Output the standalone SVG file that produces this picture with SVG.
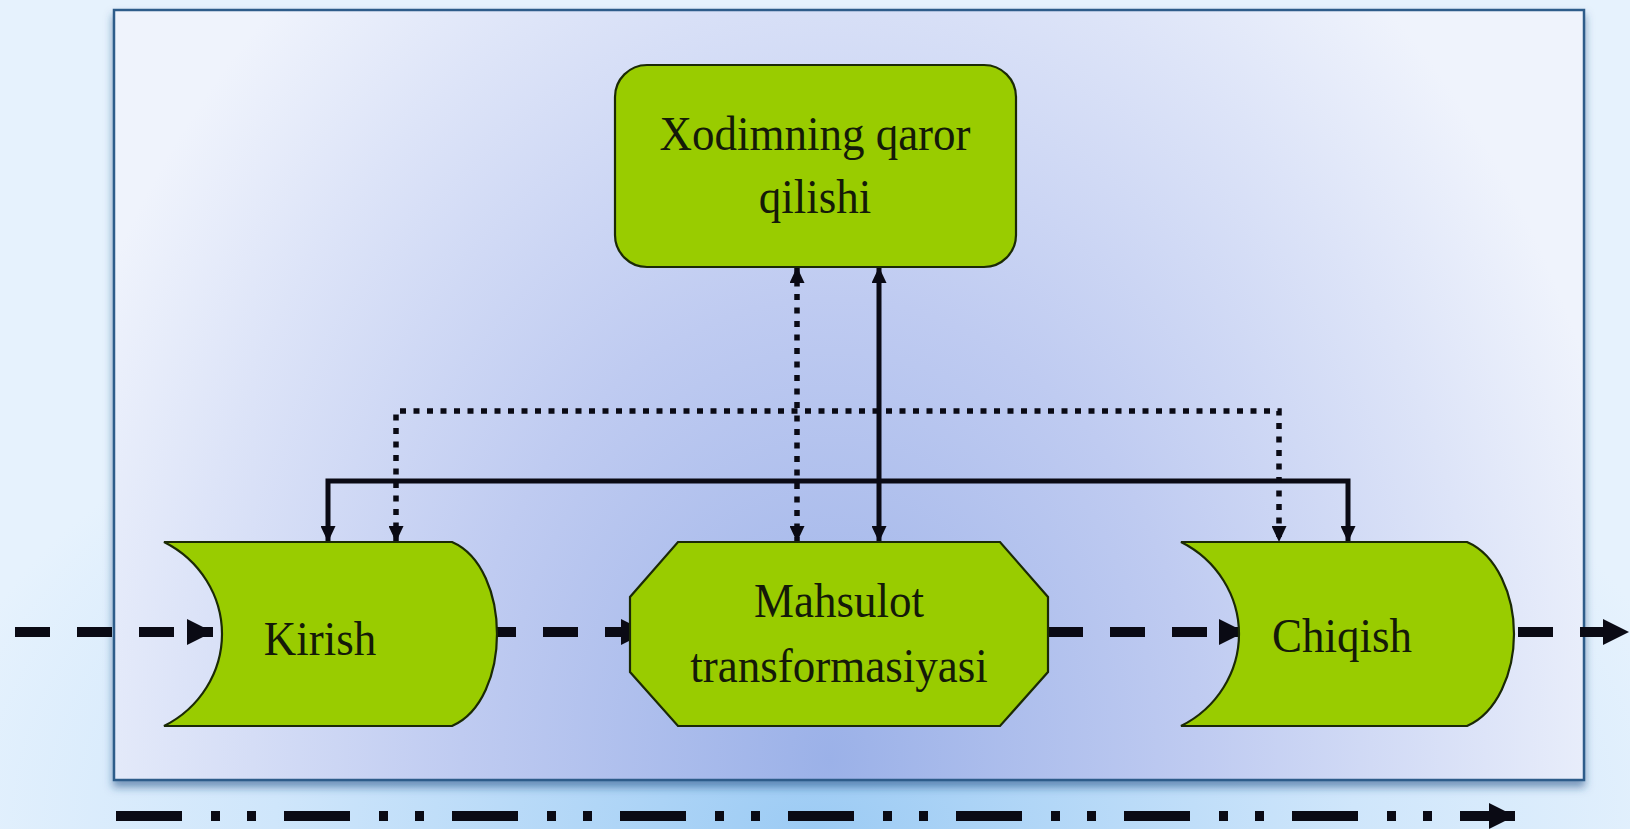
<svg xmlns="http://www.w3.org/2000/svg" width="1630" height="829" viewBox="0 0 1630 829">
<defs>
<radialGradient id="bgOuter" gradientUnits="userSpaceOnUse" cx="815" cy="829" r="900" gradientTransform="translate(815 829) scale(1 0.6) translate(-815 -829)">
<stop offset="0" stop-color="#9ccbf4"/>
<stop offset="0.6" stop-color="#cfe6fb"/>
<stop offset="1" stop-color="#e6f2fd"/>
</radialGradient>
<radialGradient id="bgInner" gradientUnits="userSpaceOnUse" cx="830" cy="760" r="820" gradientTransform="translate(830 760) scale(1 1.25) translate(-830 -760)">
<stop offset="0" stop-color="#9bb1e8"/>
<stop offset="0.45" stop-color="#bfcbf1"/>
<stop offset="0.8" stop-color="#dde4f8"/>
<stop offset="1" stop-color="#eff3fc"/>
</radialGradient>
<filter id="shadow" x="-5%" y="-5%" width="110%" height="115%">
<feDropShadow dx="0" dy="6" stdDeviation="4" flood-color="#1d4c82" flood-opacity="0.55"/>
</filter>
<marker id="bigHead" markerUnits="userSpaceOnUse" markerWidth="26" markerHeight="26" refX="26" refY="13" orient="auto-start-reverse">
<path d="M0,0 L26,13 L0,26 Z" fill="#0a0a14"/>
</marker>
<marker id="smallHead" markerUnits="userSpaceOnUse" markerWidth="16" markerHeight="15" refX="16" refY="7.5" orient="auto-start-reverse">
<path d="M0,0 L16,7.5 L0,15 Z" fill="#0a0a14"/>
</marker>
<style>
.node{fill:#99cc00;stroke:#1b2a05;stroke-width:2.2}
.lbl{font-family:"Liberation Serif","Times New Roman",serif;font-size:45px;fill:#141a08;text-anchor:middle}
.solid{fill:none;stroke:#0a0a14;stroke-width:5}
.dotted{fill:none;stroke:#0a0a14;stroke-width:5.5;stroke-dasharray:6 7.5}
.dashed{fill:none;stroke:#0a0a14;stroke-width:10;stroke-dasharray:35 27}
.dashdot{fill:none;stroke:#0a0a14;stroke-width:10;stroke-dasharray:66 29 9 27 9 28}
</style>
</defs>

<rect x="0" y="0" width="1630" height="829" fill="url(#bgOuter)"/>
<g id="frame">
<rect x="114" y="10" width="1470" height="770" fill="url(#bgInner)" stroke="#2e5c8a" stroke-width="2.5" filter="url(#shadow)"/>
</g>

<g id="connectors">
<path class="solid" d="M328,542 V481 H1348 V542" marker-start="url(#smallHead)" marker-end="url(#smallHead)"/>
<path class="dotted" d="M396,542 V411 H1279 V542" marker-start="url(#smallHead)" marker-end="url(#smallHead)"/>
<path class="dotted" d="M797,267 V542" marker-start="url(#smallHead)" marker-end="url(#smallHead)"/>
<path class="solid" d="M879,267 V542" marker-start="url(#smallHead)" marker-end="url(#smallHead)"/>
<path class="dashed" d="M15,632 H213" marker-end="url(#bigHead)"/>
<path class="dashed" d="M481,632 H647" marker-end="url(#bigHead)"/>
<path class="dashed" d="M1048,632 H1245" marker-end="url(#bigHead)"/>
<path class="dashed" d="M1518,632 H1629" marker-end="url(#bigHead)"/>
<path class="dashdot" d="M116,816 H1515" marker-end="url(#bigHead)"/>
</g>

<g id="node-qaror">
<rect class="node" x="615" y="65" width="401" height="202" rx="32" ry="32"/>
<text class="lbl" transform="translate(815 150) scale(1 1.1)">Xodimning qaror</text>
<text class="lbl" transform="translate(815 213) scale(1 1.1)">qilishi</text>
</g>

<g id="node-kirish">
<path class="node" d="M164,542 H452 C482,555 497,595 497,634 C497,673 482,713 452,726 H164 C200,708 222,672 222,634 C222,596 200,560 164,542 Z"/>
<text class="lbl" transform="translate(320 655) scale(1 1.1)">Kirish</text>
</g>

<g id="node-mahsulot">
<path class="node" d="M678,542 H1000 L1048,597 V672 L1000,726 H678 L630,672 V597 Z"/>
<text class="lbl" transform="translate(839 617) scale(1 1.1)">Mahsulot</text>
<text class="lbl" transform="translate(839 682) scale(1 1.1)">transformasiyasi</text>
</g>

<g id="node-chiqish">
<path class="node" d="M1181,542 H1467 C1497,555 1514,595 1514,634 C1514,673 1497,713 1467,726 H1181 C1217,708 1239,672 1239,634 C1239,596 1217,560 1181,542 Z"/>
<text class="lbl" transform="translate(1342 652) scale(1 1.1)">Chiqish</text>
</g>
</svg>
